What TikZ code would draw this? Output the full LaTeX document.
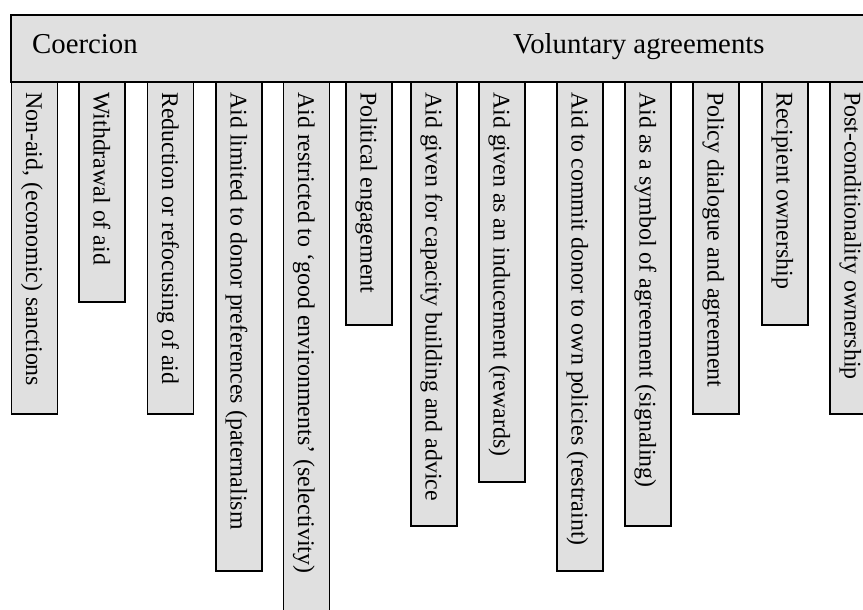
\documentclass[tikz,border=0pt]{standalone}
\usepackage{fontspec}
\setmainfont{Liberation Serif}
\definecolor{boxgray}{RGB}{224,224,224}
\begin{document}
\begin{tikzpicture}[x=1pt,y=-1pt,
  boxstyle/.style={draw=black, fill=boxgray, line width=1.5pt, rectangle, inner sep=0pt},
  bartext/.style={rotate=-90, anchor=base west, inner sep=0pt, font=\fontsize{23.9}{28}\selectfont},
  headtext/.style={anchor=base west, inner sep=0pt, font=\fontsize{28.8}{34}\selectfont}]
\useasboundingbox (0,0) rectangle (863,610);
\clip (0,0) rectangle (863,610);
\node[boxstyle, minimum width=869pt, minimum height=67pt] (header) at ({11+434.5},{15+33.5}) {};
\node[headtext] (coercion) at (32,53.5) {Coercion};
\node[headtext] (voluntary) at (513,53.5) {Voluntary agreements};
\foreach \i/\x/\yb/\t in {
  1/11.5/414/{Non-aid, (economic) sanctions},
  2/79/302/{Withdrawal of aid},
  3/147.5/414/{Reduction or refocusing of aid},
  4/216/571/{Aid limited to donor preferences (paternalism},
  5/283.5/640/{Aid restricted to ‘good environments’ (selectivity)},
  6/346/325/{Political engagement},
  7/411/526/{Aid given for capacity building and advice},
  8/479/482/{Aid given as an inducement (rewards)},
  9/557/571/{Aid to commit donor to own policies (restraint)},
  10/625/526/{Aid as a symbol of agreement (signaling)},
  11/693/414/{Policy dialogue and agreement},
  12/762/325/{Recipient ownership},
  13/830/414/{Post-conditionality ownership}}{
  \node[boxstyle, minimum width=46pt, minimum height={\yb-82}] (b\i) at ({\x+23},{(82+\yb)/2}) {};
  \node[bartext] (t\i) at ({\x+14.5},92) {\t};
}
\end{tikzpicture}
\end{document}
